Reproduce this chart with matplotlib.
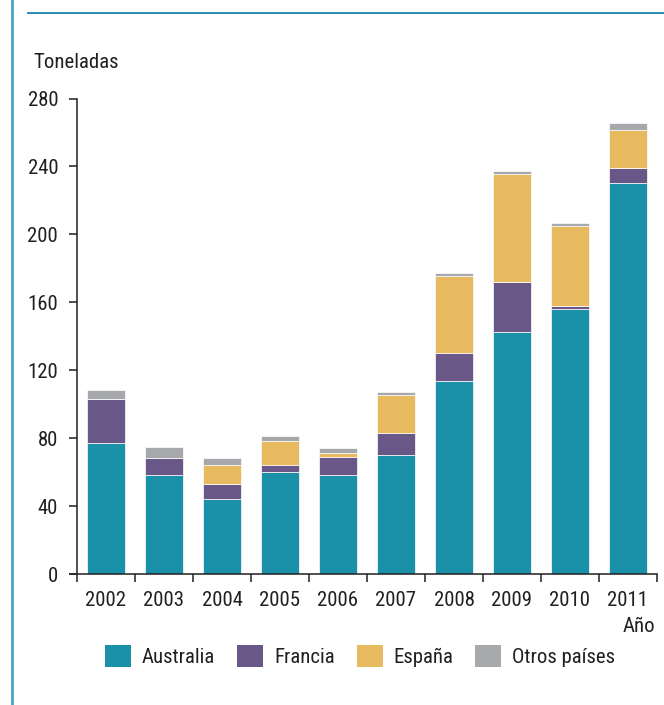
import matplotlib
matplotlib.use("Agg")
import matplotlib.pyplot as plt
from matplotlib.patches import Patch
from matplotlib.lines import Line2D
from matplotlib import font_manager as fm
from matplotlib.font_manager import FontProperties
from matplotlib.textpath import TextPath
import numpy as np

years = ['2002', '2003', '2004', '2005', '2006', '2007', '2008', '2009', '2010', '2011']
australia = [77.2, 58.4, 44.2, 60.3, 58.2, 70.2, 113.6, 142.5, 156.3, 230.4]
francia = [26.0, 10.0, 8.9, 3.8, 10.8, 12.9, 16.5, 29.7, 1.7, 8.8]
espana = [0.0, 0.0, 11.2, 14.1, 2.3, 22.2, 45.2, 63.1, 47.2, 22.0]
otros = [5.1, 6.1, 3.9, 3.0, 3.0, 2.0, 2.0, 2.1, 1.2, 4.1]
series_names = ['Australia', 'Francia', 'España', 'Otros países']
yticks = [0, 40, 80, 120, 160, 200, 240, 280]

colors = ['#1A91A8', '#695788', '#E8BA5F', '#A7A8AC']
txt = '#231F20'


# ---- pick a condensed sans font if one is installed ----
def _is_regular(f):
    w = f.weight
    ok_w = (w in (400, 'normal', 'regular', 'book')) if not isinstance(w, int) else w == 400
    return ok_w and f.style == 'normal'


def _is_condensed(f):
    n = f.name.lower()
    st = f.stretch
    if 'narrow' in n or 'condensed' in n:
        return 'extra' not in n and 'ultra' not in n
    if isinstance(st, str):
        return st in ('condensed', 'semi-condensed')
    try:
        return 300 <= int(st) < 500
    except Exception:
        return False


cands = [f for f in fm.fontManager.ttflist if _is_regular(f) and _is_condensed(f)]
pref = ['liberation sans narrow', 'roboto condensed', 'noto sans', 'dejavu sans', 'open sans', 'lato', 'inter']
chosen = None
for p in pref:
    for f in cands:
        if f.name.lower().startswith(p) and 'mono' not in f.name.lower() and 'serif' not in f.name.lower():
            chosen = f
            break
    if chosen:
        break
if chosen is None and cands:
    chosen = cands[0]
if chosen is not None:
    base = FontProperties(fname=chosen.fname)
else:
    base = FontProperties(family='Liberation Sans')

# size: compromise between "2002" ~40 px wide and digits ~15 px tall
ext = TextPath((0, 0), '2002', size=100, prop=base).get_extents()
size_w = 100 * (40 * 72 / 100) / ext.width
size_h = 100 * (15 * 72 / 100) / ext.height
fs = 0.35 * size_w + 0.65 * size_h
fp = base.copy()
fp.set_size(fs)
fs_px = fs * 100 / 72

fig = plt.figure(figsize=(6.64, 7.05), dpi=100)
ax = fig.add_axes([77/664, 1-574/705, (657-77)/664, (574-98.5)/705])

x = np.arange(len(years))
bottom = np.zeros(len(years))
for vals, c in zip([australia, francia, espana, otros], colors):
    v = np.array(vals)
    ax.bar(x, v, bottom=bottom, width=0.67, color=c, edgecolor='#FFFFFF', linewidth=0.5)
    bottom += v

ax.set_xlim(-0.5, len(years) - 0.5)
ax.set_ylim(0, 280)
ax.set_yticks(yticks)
ax.set_yticklabels([str(t) for t in yticks])
ax.set_xticks(np.arange(len(years) + 1) - 0.5)
ax.set_xticklabels([])
ax.set_xticks(x, minor=True)
ax.set_xticklabels(years, minor=True)
ax.tick_params(axis='x', which='major', length=6, width=1.1, color=txt, direction='out')
ax.tick_params(axis='x', which='minor', length=0, pad=12, labelcolor=txt)
ax.tick_params(axis='y', length=5.5, width=1.1, color=txt, pad=8, labelcolor=txt)
for lab in ax.get_xticklabels(minor=True) + ax.get_yticklabels():
    lab.set_fontproperties(fp)
for s in ['top', 'right']:
    ax.spines[s].set_visible(False)
for s in ['left', 'bottom']:
    ax.spines[s].set_color(txt)
    ax.spines[s].set_linewidth(1.1)
ax.spines['bottom'].set_bounds(-0.5 - 0.12, len(years) - 0.5)

fig.text(33/664, 1-62/705, 'Toneladas', fontproperties=fp, color=txt, ha='left', va='center')
fig.text(655/664, 1-626/705, 'Año', fontproperties=fp, color=txt, ha='right', va='center')

handles = [Patch(facecolor=c, edgecolor='none') for c in colors]
leg = fig.legend(handles, series_names, loc='center', bbox_to_anchor=(360/664, 1-656/705),
                 ncol=4, frameon=False, prop=fp, handlelength=26/fs_px, handleheight=26/fs_px,
                 handletextpad=11/fs_px, columnspacing=22/fs_px, labelcolor=txt)

# decorative frame lines
fig.add_artist(Line2D([12/664, 12/664], [0, 1], color='#4AA3C8', linewidth=2.0, transform=fig.transFigure))
fig.add_artist(Line2D([28/664, 1], [1-13/705, 1-13/705], color='#2B8CB3', linewidth=1.4, transform=fig.transFigure))

fig.savefig('out.png', dpi=100)
